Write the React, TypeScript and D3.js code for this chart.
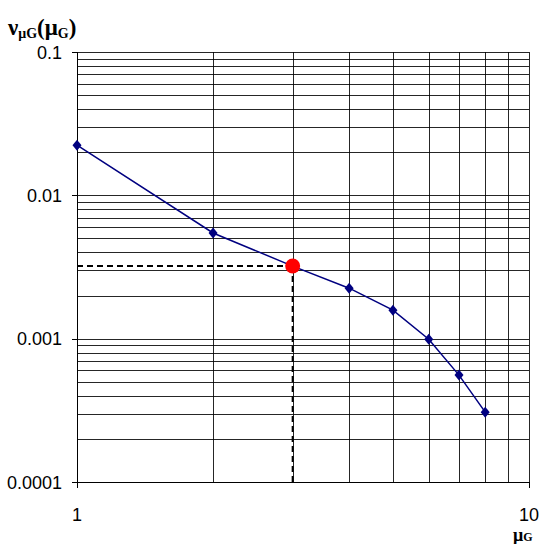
import React from "react";
import * as d3 from "d3";

const xValues = [1, 2, 3, 4, 5, 6, 7, 8];
const yValues = [0.0224, 0.00546, 0.00321, 0.00225, 0.00158, 0.00099, 0.000557, 0.000307];
const highlightX = 3;
const highlightY = 0.00321;
const yTickValues = [0.1, 0.01, 0.001, 0.0001];
const yTickLabels = ["0.1", "0.01", "0.001", "0.0001"];
const xTickValues = [1, 10];
const xTickLabels = ["1", "10"];

const W = 543;
const H = 544;
const left = 77;
const right = 529;
const top = 52;
const bottom = 482;
const sans = "'Liberation Sans', Arial, Helvetica, sans-serif";
const serif = "'Liberation Serif', 'Times New Roman', serif";

export default function App() {
  const x = d3.scaleLog().domain([1, 10]).range([left, right]);
  const y = d3.scaleLog().domain([0.0001, 0.1]).range([bottom, top]);

  const hGrid: number[] = [];
  for (let e = -4; e <= -2; e++) {
    for (let k = 1; k <= 9; k++) hGrid.push(k * Math.pow(10, e));
  }
  hGrid.push(0.1);
  const vGrid = d3.range(1, 11);

  const line = d3
    .line<number>()
    .x((_, i) => x(xValues[i]))
    .y((d) => y(d));

  const diamond = (cx: number, cy: number) =>
    `M${cx},${cy - 5.5}L${cx + 4.5},${cy}L${cx},${cy + 5.5}L${cx - 4.5},${cy}Z`;

  return (
    <svg
      width={W}
      height={H}
      style={{ position: "absolute", left: 0, top: 0, background: "#fff" }}
    >
      {hGrid.map((v, i) => (
        <line
          key={"h" + i}
          x1={left}
          x2={right}
          y1={Math.round(y(v)) + 0.5}
          y2={Math.round(y(v)) + 0.5}
          stroke="#000"
          strokeWidth={1}
          strokeOpacity={0.85}
        />
      ))}
      {vGrid.map((v, i) => (
        <line
          key={"v" + i}
          x1={Math.round(x(v)) + 0.5}
          x2={Math.round(x(v)) + 0.5}
          y1={top}
          y2={bottom}
          stroke="#000"
          strokeWidth={1}
          strokeOpacity={0.85}
        />
      ))}
      {/* axes */}
      <line x1={left + 0.5} x2={left + 0.5} y1={top} y2={bottom + 6} stroke="#000" />
      <line x1={left - 5} x2={right} y1={bottom + 0.5} y2={bottom + 0.5} stroke="#000" />
      {yTickValues.map((v, i) => (
        <g key={"yt" + i}>
          <line
            x1={left - 5}
            x2={left}
            y1={Math.round(y(v)) + 0.5}
            y2={Math.round(y(v)) + 0.5}
            stroke="#000"
          />
          <text
            x={62}
            y={y(v) + 6.5}
            textAnchor="end"
            style={{ fontFamily: sans, fontSize: "18px" }}
            fill="#000"
          >
            {yTickLabels[i]}
          </text>
        </g>
      ))}
      {xTickValues.map((v, i) => (
        <g key={"xt" + i}>
          <line
            x1={Math.round(x(v)) + 0.5}
            x2={Math.round(x(v)) + 0.5}
            y1={bottom}
            y2={bottom + 6}
            stroke="#000"
          />
          <text
            x={x(v)}
            y={521}
            textAnchor="middle"
            style={{ fontFamily: sans, fontSize: "18px" }}
            fill="#000"
          >
            {xTickLabels[i]}
          </text>
        </g>
      ))}
      {/* dashed guides */}
      <line
        x1={left}
        x2={x(highlightX)}
        y1={y(highlightY)}
        y2={y(highlightY)}
        stroke="#000"
        strokeWidth={2}
        strokeDasharray="6,4"
      />
      <line
        x1={x(highlightX)}
        x2={x(highlightX)}
        y1={y(highlightY)}
        y2={bottom}
        stroke="#000"
        strokeWidth={2}
        strokeDasharray="6,4"
      />
      {/* series */}
      <path d={line(yValues) || ""} fill="none" stroke="#000080" strokeWidth={1.5} />
      {yValues.map((v, i) => (
        <path key={"m" + i} d={diamond(x(xValues[i]), y(v))} fill="#000080" />
      ))}
      <circle cx={x(highlightX)} cy={y(highlightY)} r={7.5} fill="#ff0000" />
      {/* axis titles */}
      <text
        x={8}
        y={35}
        style={{ fontFamily: serif, fontWeight: "bold", fontSize: "23px" }}
        fill="#000"
      >
        ν
        <tspan style={{ fontSize: "14px" }} dy={3}>μG</tspan>
        <tspan style={{ fontSize: "23px" }} dy={-3}>(μ</tspan>
        <tspan style={{ fontSize: "14px" }} dy={3}>G</tspan>
        <tspan style={{ fontSize: "23px" }} dy={-3}>)</tspan>
      </text>
      <text
        x={513}
        y={541}
        style={{ fontFamily: serif, fontWeight: "bold", fontSize: "18px" }}
        fill="#000"
      >
        μ
        <tspan style={{ fontSize: "12px" }} dy={0}>G</tspan>
      </text>
    </svg>
  );
}
